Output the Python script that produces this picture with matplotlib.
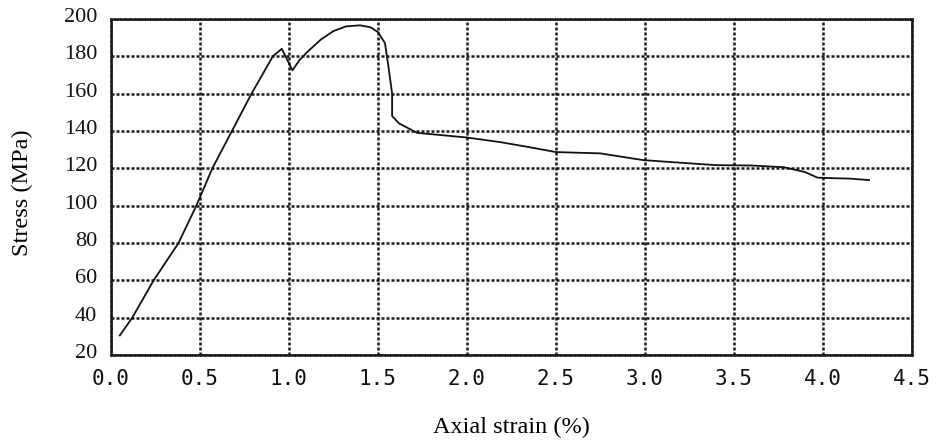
import matplotlib
matplotlib.use("Agg")
import matplotlib.pyplot as plt
from matplotlib.transforms import ScaledTranslation

# values
strain = [0.05, 0.12, 0.24, 0.38, 0.48, 0.57, 0.68, 0.79, 0.91, 0.96, 1.02,
          1.06, 1.10, 1.18, 1.25, 1.32, 1.40, 1.46, 1.50, 1.54, 1.56, 1.58,
          1.58, 1.62, 1.72, 2.00, 2.19, 2.37, 2.50, 2.75, 2.99, 3.20, 3.40,
          3.60, 3.78, 3.90, 3.97, 4.06, 4.15, 4.26]
stress = [30.5, 40, 60, 80, 100, 120, 140, 160, 180, 184, 172.5,
          178, 182, 189, 193.5, 196, 196.6, 195.5, 193, 187, 174, 160,
          148, 144, 139, 136.5, 134, 131, 128.7, 128, 124.4, 123, 121.7,
          121.5, 120.6, 118, 115, 114.7, 114.5, 113.7]

x_ticks = [0.0, 0.5, 1.0, 1.5, 2.0, 2.5, 3.0, 3.5, 4.0, 4.5]
y_ticks = [20, 40, 60, 80, 100, 120, 140, 160, 180, 200]

fig = plt.figure(figsize=(9.4, 4.41), dpi=100)
ax = fig.add_axes([0.118, 0.195, 0.852, 0.762])

ax.plot(strain, stress, color="#111111", lw=1.3, zorder=3)

ax.set_xlim(0, 4.5)
ax.set_ylim(20, 200)
ax.set_xticks(x_ticks)
ax.set_yticks(y_ticks)
ax.set_xticklabels([f"{v:.1f}" for v in x_ticks], fontfamily="DejaVu Sans Mono", fontsize=15)
ax.set_yticklabels([str(v) for v in y_ticks], fontfamily="Liberation Serif", fontsize=16)
ax.tick_params(length=0, pad=10, colors="#111111")

# y labels in the scan sit a few pixels above their grid line
up = ScaledTranslation(0, 4 / 100, fig.dpi_scale_trans)
for lbl in ax.get_yticklabels():
    lbl.set_transform(lbl.get_transform() + up)

# grainy dotted grid like the scan
ax.grid(True, color="#1a1a1a", linestyle=(0, (1.2, 0.8)), linewidth=1.8, zorder=1)
for sp in ax.spines.values():
    sp.set_color("#1a1a1a")
    sp.set_linestyle((0, (1.2, 0.8)))
    sp.set_linewidth(1.8)

ax.set_xlabel("Axial strain (%)", fontfamily="Liberation Serif", fontsize=17.5, labelpad=20)
ax.set_ylabel("Stress (MPa)", fontfamily="Liberation Serif", fontsize=17.5)
ax.yaxis.set_label_coords(-0.097, 0.482)

fig.savefig("out.png", dpi=100, facecolor="white")
